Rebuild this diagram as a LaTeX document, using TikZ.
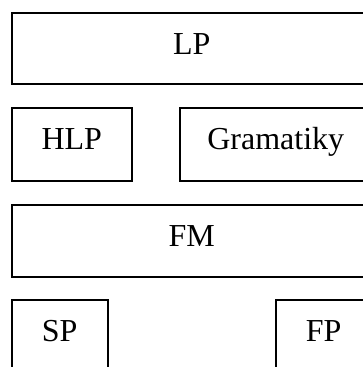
\documentclass[tikz,border=0pt]{standalone}
\usepackage{fontspec}
\setmainfont{Liberation Serif}
\begin{document}
\begin{tikzpicture}[x=1pt,y=-1pt,
  box/.style={draw=black, line width=1.5pt, rectangle, inner sep=0pt,
    anchor=north west, align=center, text height=41.5pt,
    font=\fontsize{32pt}{38pt}\selectfont}]
  \useasboundingbox (0,0) rectangle (363,367);
  \fill[white] (0,0) rectangle (363,367);
  \clip (0,0) rectangle (363,367);
  % top layer
  \node[box, minimum width=360pt, text depth=29.5pt] (lp) at (11,12) {LP};
  % second layer
  \node[box, minimum width=120pt, text depth=31.5pt] (hlp) at (11,107) {HLP};
  \node[box, minimum width=192pt, text depth=31.5pt] (gram) at (179,107) {Gramatiky};
  % third layer
  \node[box, minimum width=360pt, text depth=30.5pt] (fm) at (11,204) {FM};
  % bottom layer
  \node[box, minimum width=96pt, text depth=31pt] (sp) at (11,299) {SP};
  \node[box, minimum width=96pt, text depth=31pt] (fp) at (275,299) {FP};
\end{tikzpicture}
\end{document}
